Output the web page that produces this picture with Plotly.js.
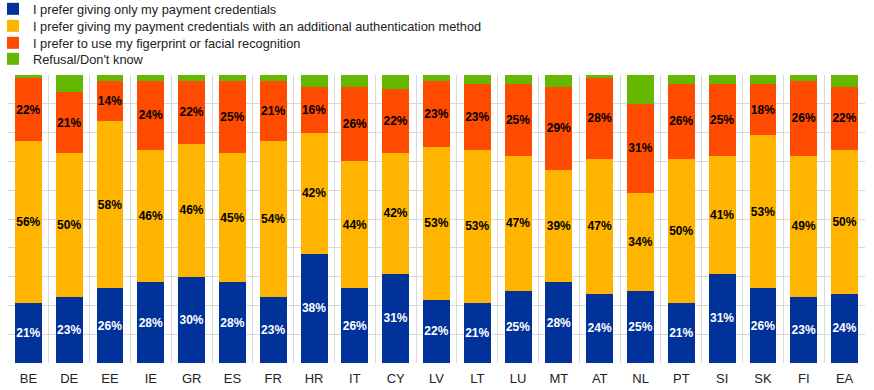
<!DOCTYPE html>
<html>
<head>
<meta charset="utf-8">
<script src="https://cdn.plot.ly/plotly-3.0.1.min.js"></script>
<style>html,body{margin:0;padding:0;background:#fff;}#chart{width:874px;height:390px;}</style>
</head>
<body>
<div id="chart"></div>
<script>
const countries = ["BE","DE","EE","IE","GR","ES","FR","HR","IT","CY","LV","LT","LU","MT","AT","NL","PT","SI","SK","FI","EA"];
const onlyCredentials = [21,23,26,28,30,28,23,38,26,31,22,21,25,28,24,25,21,31,26,23,24];
const withAuthentication = [56,50,58,46,46,45,54,42,44,42,53,53,47,39,47,34,50,41,53,49,50];
const biometrics = [22,21,14,24,22,25,21,16,26,22,23,23,25,29,28,31,26,25,18,26,22];
const refusal = [1,6,2,2,2,2,2,4,4,5,2,3,3,4,1,10,3,3,3,2,4];
const seriesNames = [
  "I prefer giving only my payment credentials",
  "I prefer giving my payment credentials with an additional authentication method",
  "I prefer to use my figerprint or facial recognition",
  "Refusal/Don't know"
];

const font = "Arial, 'Liberation Sans', sans-serif";
function pct(arr){ return arr.map(v => v + "%"); }

const legendIds = ["legend", "legend2", "legend3", "legend4"];

const traces = [
  {name: seriesNames[0], y: onlyCredentials, color: "#003299", text: pct(onlyCredentials), tc: "#ffffff"},
  {name: seriesNames[1], y: withAuthentication, color: "#FFB400", text: pct(withAuthentication), tc: "#000000"},
  {name: seriesNames[2], y: biometrics, color: "#FF4B00", text: pct(biometrics), tc: "#000000"},
  {name: seriesNames[3], y: refusal, color: "#65B800", text: null, tc: "#000000"}
].map((s, i) => ({
  type: "bar",
  x: countries,
  y: s.y,
  name: s.name,
  legend: legendIds[i],
  marker: {color: s.color, line: {width: 0}},
  text: s.text,
  textposition: s.text ? "inside" : "none",
  insidetextanchor: "middle",
  textangle: 0,
  textfont: {family: font, size: 12, color: s.tc, weight: "bold"},
  hoverinfo: "none"
}));

function legendAt(yPaper){
  return {
    x: -0.0175, xanchor: "left", y: yPaper, yanchor: "top",
    orientation: "v", bgcolor: "rgba(0,0,0,0)", borderwidth: 0,
    font: {family: font, size: 12.8, color: "#222"}
  };
}

const layout = {
  width: 874, height: 390,
  margin: {l: 8, r: 9, t: 75, b: 27, autoexpand: false},
  paper_bgcolor: "#fff", plot_bgcolor: "#fff",
  barmode: "stack",
  bargap: 0.34,
  uniformtext: {minsize: 12, mode: "show"},
  font: {family: font, size: 12, color: "#222"},
  showlegend: true,
  legend: legendAt(1.2812),
  legend2: legendAt(1.2222),
  legend3: legendAt(1.1632),
  legend4: legendAt(1.1076),
  xaxis: {
    type: "category",
    showgrid: true, gridcolor: "#d9d9d9", gridwidth: 1,
    tickson: "boundaries", ticks: "",
    ticklabelstandoff: 6,
    showline: false, zeroline: false,
    tickfont: {family: font, size: 13, color: "#222"},
    fixedrange: true
  },
  yaxis: {
    range: [0, 100], dtick: 10,
    showgrid: true, gridcolor: "#d9d9d9", gridwidth: 1,
    showticklabels: false, zeroline: false, showline: false, ticks: "",
    fixedrange: true
  }
};

Plotly.newPlot("chart", traces, layout, {staticPlot: true, displayModeBar: false});
</script>
</body>
</html>
